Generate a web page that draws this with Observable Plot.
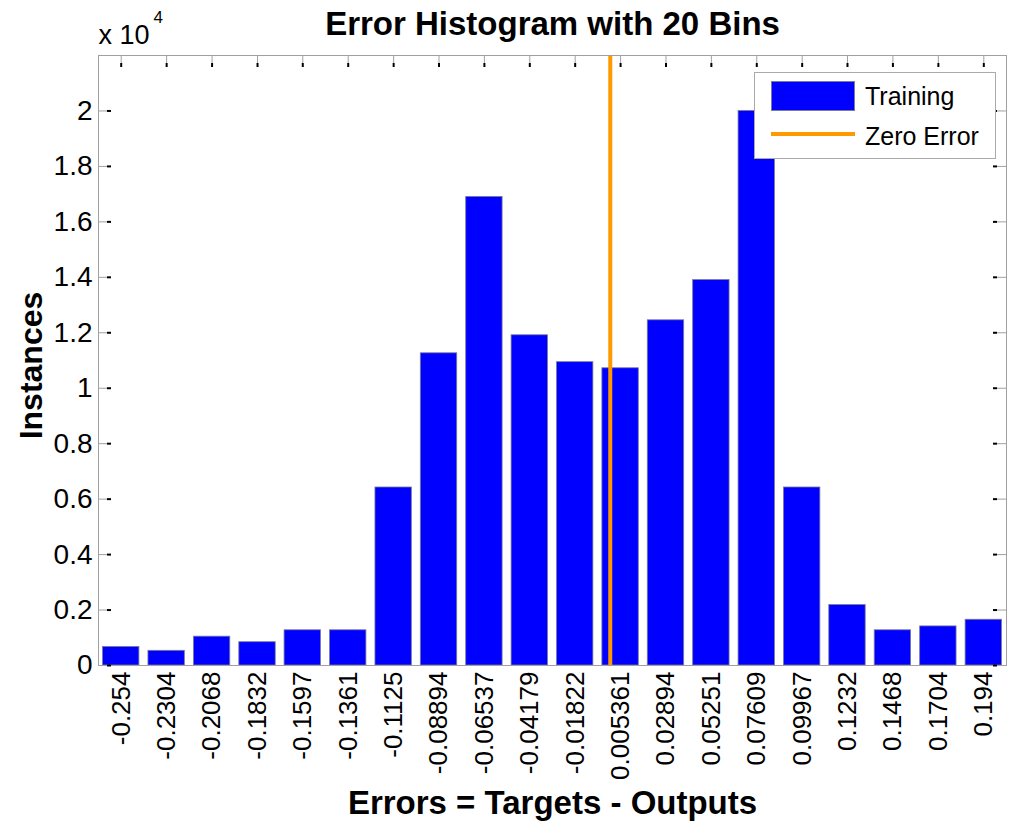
<!DOCTYPE html>
<html>
<head>
<meta charset="utf-8">
<script src="https://cdn.jsdelivr.net/npm/d3@7"></script>
<script src="https://cdn.jsdelivr.net/npm/@observablehq/plot@0.6"></script>
<style>
  html, body { margin: 0; padding: 0; background: #fff; }
  #wrap { position: relative; width: 1024px; height: 828px; font-family: "Liberation Sans", Arial, sans-serif; }
  #legend { position: absolute; left: 754px; top: 72px; width: 242px; height: 87px; border: 1px solid #aaa; background: #fff; box-sizing: border-box; }
  .lrow { position: absolute; left: 16px; display: flex; align-items: center; font-size: 25px; color: #000; }
  .lrow span { margin-left: 10px; }
</style>
</head>
<body>
<div id="wrap"></div>
<script>
// ---- data ----
const binLabels = ["-0.254","-0.2304","-0.2068","-0.1832","-0.1597","-0.1361","-0.1125","-0.08894","-0.06537","-0.04179","-0.01822","0.005361","0.02894","0.05251","0.07609","0.09967","0.1232","0.1468","0.1704","0.194"];
const trainingCounts = [670, 530, 1040, 840, 1270, 1270, 6420, 11260, 16900, 11910, 10940, 10720, 12450, 13900, 20000, 6420, 2180, 1270, 1410, 1650];
const yTicks = [0, 2000, 4000, 6000, 8000, 10000, 12000, 14000, 16000, 18000, 20000];
const zeroError = [0];
const titleText = "Error Histogram with 20 Bins";
const xLabel = "Errors = Targets - Outputs";
const yLabel = "Instances";
const legendItems = ["Training", "Zero Error"];

// ---- derived ----
const centers = binLabels.map(Number);
const binW = (centers[centers.length - 1] - centers[0]) / (centers.length - 1);
const labelOf = new Map(centers.map((c, i) => [c, binLabels[i]]));
const data = centers.map((c, i) => ({center: c, count: trainingCounts[i]}));

const W = 1024, H = 828;
const mL = 98, mR = 18, mT = 55, mB = 163;
const pW = W - mL - mR, pH = H - mT - mB;

const chart = Plot.plot({
  width: W,
  height: H,
  marginLeft: mL,
  marginRight: mR,
  marginTop: mT,
  marginBottom: mB,
  style: {fontFamily: "'Liberation Sans', Arial, sans-serif", color: "#000", background: "#fff"},
  x: {type: "linear", domain: [centers[0] - binW / 2, centers[centers.length - 1] + binW / 2]},
  y: {domain: [0, 22000]},
  marks: [
    Plot.rectY(data, {
      x1: d => d.center - binW / 2,
      x2: d => d.center + binW / 2,
      y: "count",
      insetLeft: 4.5, insetRight: 4.5,
      fill: "#0000ff", stroke: "#7a7a9a", strokeWidth: 0.8
    }),
    Plot.ruleX(zeroError, {x: d => d, stroke: "#ff9900", strokeWidth: 4}),
    Plot.frame({stroke: "#a0a0a0"}),
    // inward ticks: left / right
    Plot.tickY(yTicks, {y: d => d, stroke: "#a0a0a0", insetRight: pW - 9}),
    Plot.tickY(yTicks, {y: d => d, stroke: "#000", strokeWidth: 2, insetLeft: 9, insetRight: pW - 13}),
    Plot.tickY(yTicks, {y: d => d, stroke: "#a0a0a0", insetLeft: pW - 9}),
    Plot.tickY(yTicks, {y: d => d, stroke: "#000", strokeWidth: 2, insetLeft: pW - 13, insetRight: 9}),
    // inward ticks: top / bottom
    Plot.tickX(centers, {x: d => d, stroke: "#a0a0a0", insetBottom: pH - 8}),
    Plot.tickX(centers, {x: d => d, stroke: "#000", strokeWidth: 2, insetTop: 8, insetBottom: pH - 12}),
    Plot.axisY(yTicks, {
      tickSize: 0, tickPadding: 6, fontSize: 28,
      tickFormat: d => String(+(d / 1e4).toFixed(1)),
      label: null
    }),
    Plot.axisX(centers, {
      tickSize: 0, tickPadding: 6, fontSize: 26, tickRotate: -90,
      tickFormat: d => labelOf.get(d),
      label: null
    }),
    Plot.text([titleText], {frameAnchor: "top", lineAnchor: "middle", dy: -31, fontSize: 33, fontWeight: "bold"}),
    Plot.text([xLabel], {frameAnchor: "bottom", lineAnchor: "middle", dy: 138, fontSize: 33, fontWeight: "bold"}),
    Plot.text([yLabel], {frameAnchor: "left", textAnchor: "middle", lineAnchor: "middle", dx: -67, dy: 5, rotate: -90, fontSize: 32, fontWeight: "bold"}),
    Plot.text(["x 10"], {frameAnchor: "top-left", textAnchor: "start", lineAnchor: "middle", dx: 0, dy: -20, fontSize: 27}),
    Plot.text(["4"], {frameAnchor: "top-left", textAnchor: "start", lineAnchor: "middle", dx: 55, dy: -38, fontSize: 17})
  ]
});

const wrap = document.getElementById("wrap");
wrap.appendChild(chart);

const legend = document.createElement("div");
legend.id = "legend";
legend.innerHTML =
  `<div class="lrow" style="top:8px"><svg width="84" height="30"><rect x="0.5" y="0.5" width="83" height="29" fill="#0000ff" stroke="#7a7a9a"/></svg><span>${legendItems[0]}</span></div>` +
  `<div class="lrow" style="top:48px"><svg width="84" height="30"><line x1="0" x2="84" y1="13" y2="13" stroke="#ff9900" stroke-width="4"/></svg><span>${legendItems[1]}</span></div>`;
wrap.appendChild(legend);
</script>
</body>
</html>
